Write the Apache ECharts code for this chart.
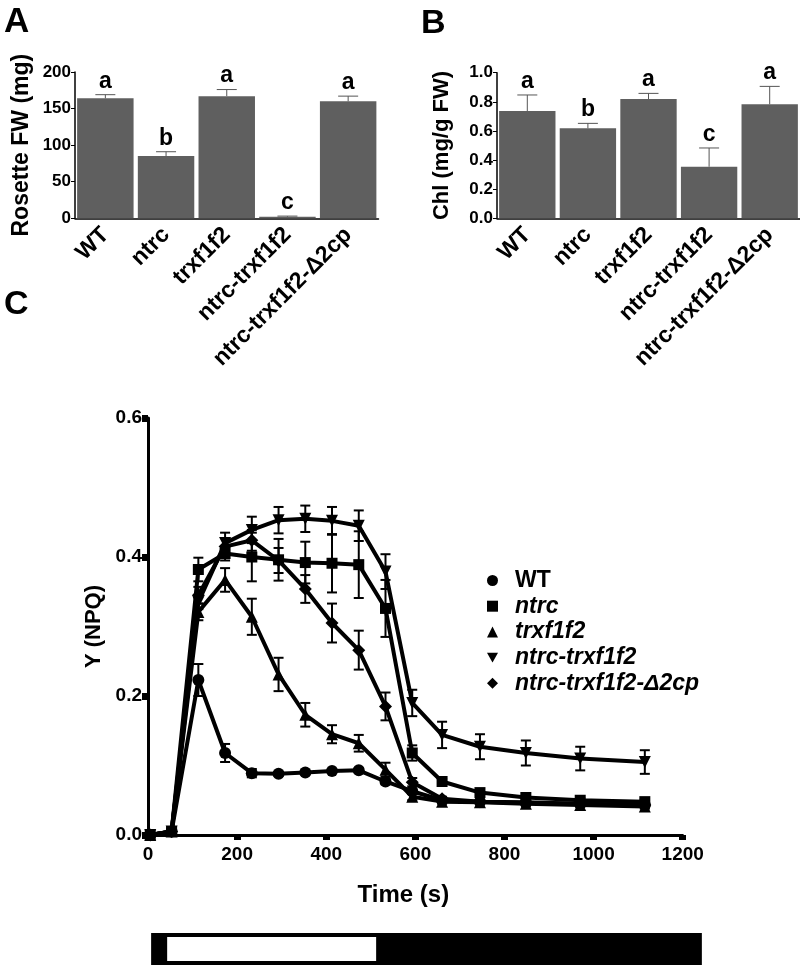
<!DOCTYPE html>
<html>
<head>
<meta charset="utf-8">
<script src="https://cdn.jsdelivr.net/npm/echarts@6/dist/echarts.min.js"></script>
<style>
html, body { margin: 0; padding: 0; background: #fff; }
#chart { width: 800px; height: 965px; }
</style>
</head>
<body>
<div id="chart"></div>
<script>
// genotypes (panels A and B)
const genotypes = ['WT', 'ntrc', 'trxf1f2', 'ntrc-trxf1f2', 'ntrc-trxf1f2-\u03942cp'];
const fwMean = [164, 85, 167, 2, 160];
const fwErr = [5, 6, 9, 1, 7];
const fwLetters = ['a', 'b', 'a', 'c', 'a'];
const chlMean = [0.737, 0.618, 0.819, 0.354, 0.783];
const chlErr = [0.11, 0.034, 0.039, 0.129, 0.123];
const chlLetters = ['a', 'b', 'a', 'c', 'a'];

// panel C: Y(NPQ) over time
const timePoints = [5, 53, 113, 173, 233, 293, 353, 413, 473, 533, 593, 660, 745, 848, 970, 1115];
const npqWT = [0, 0.005, 0.223, 0.118, 0.089, 0.088, 0.09, 0.092, 0.093, 0.077, 0.063, 0.05, 0.048, 0.046, 0.045, 0.043];
const errWT = [0.002, 0.004, 0.023, 0.013, 0.006, 0.003, 0.003, 0.003, 0.003, 0.004, 0.004, 0.003, 0.003, 0.003, 0.003, 0.003];
const npqNtrc = [0, 0.005, 0.382, 0.405, 0.4, 0.396, 0.392, 0.391, 0.389, 0.326, 0.118, 0.077, 0.061, 0.054, 0.05, 0.048];
const errNtrc = [0.002, 0.004, 0.017, 0.01, 0.035, 0.03, 0.03, 0.042, 0.048, 0.041, 0.011, 0.004, 0.004, 0.003, 0.003, 0.003];
const npqTrx = [0, 0.005, 0.321, 0.367, 0.314, 0.231, 0.173, 0.145, 0.132, 0.094, 0.055, 0.048, 0.047, 0.045, 0.043, 0.041];
const errTrx = [0.002, 0.004, 0.012, 0.017, 0.026, 0.024, 0.017, 0.013, 0.012, 0.01, 0.005, 0.003, 0.003, 0.003, 0.003, 0.003];
const npqDouble = [0, 0.005, 0.335, 0.42, 0.439, 0.453, 0.455, 0.452, 0.445, 0.379, 0.19, 0.144, 0.127, 0.118, 0.11, 0.105];
const errDouble = [0.002, 0.004, 0.01, 0.015, 0.019, 0.019, 0.019, 0.02, 0.022, 0.025, 0.019, 0.019, 0.018, 0.018, 0.017, 0.017];
const npqD2cp = [0, 0.005, 0.345, 0.415, 0.424, 0.395, 0.354, 0.305, 0.266, 0.185, 0.076, 0.052, 0.048, 0.047, 0.045, 0.043];
const errD2cp = [0.002, 0.004, 0.012, 0.012, 0.015, 0.018, 0.02, 0.028, 0.028, 0.02, 0.006, 0.003, 0.003, 0.003, 0.003, 0.003];

// light / dark bar under panel C (seconds)
const darkSpan = [7, 1243];
const lightSpan = [43, 512];

const FONT = 'Liberation Sans, Arial, sans-serif';
const downTri = 'path://M0,0L10,0L5,9Z';

const chart = echarts.init(document.getElementById('chart'));

// upward error bar + significance letter for bar panels
function barErrRender (letters) {
  return function (params, api) {
    const i = api.value(0);
    const mean = api.value(1);
    const err = api.value(2);
    const base = api.coord([i, mean]);
    const top = api.coord([i, mean + err]);
    return {
      type: 'group',
      children: [
        { type: 'line', shape: { x1: top[0], y1: base[1], x2: top[0], y2: top[1] }, style: { stroke: '#555', lineWidth: 1 } },
        { type: 'line', shape: { x1: top[0] - 10, y1: top[1], x2: top[0] + 10, y2: top[1] }, style: { stroke: '#555', lineWidth: 1 } },
        {
          type: 'text',
          x: top[0],
          y: top[1] - 2,
          style: { text: letters[params.dataIndex], align: 'center', verticalAlign: 'bottom', fontSize: 23, fontWeight: 'bold', fontFamily: FONT, fill: '#000' }
        }
      ]
    };
  };
}

// symmetric error bars for panel C
function lineErrRender (params, api) {
  const t = api.value(0);
  const v = api.value(1);
  const e = api.value(2);
  const hi = api.coord([t, v + e]);
  const lo = api.coord([t, v - e]);
  const st = { stroke: '#000', lineWidth: 2 };
  return {
    type: 'group',
    children: [
      { type: 'line', shape: { x1: hi[0], y1: hi[1], x2: lo[0], y2: lo[1] }, style: st },
      { type: 'line', shape: { x1: hi[0] - 5, y1: hi[1], x2: hi[0] + 5, y2: hi[1] }, style: st },
      { type: 'line', shape: { x1: lo[0] - 5, y1: lo[1], x2: lo[0] + 5, y2: lo[1] }, style: st }
    ]
  };
}

function lightBarRender (params, api) {
  const kind = api.value(2);
  const p0 = api.coord([api.value(0), 1]);
  const p1 = api.coord([api.value(1), 0]);
  const inset = kind === 1 ? 4 : 0;
  return {
    type: 'rect',
    shape: { x: p0[0], y: p0[1] + inset, width: p1[0] - p0[0], height: p1[1] - p0[1] - 2 * inset },
    style: { fill: kind === 1 ? '#fff' : '#000' }
  };
}

const barAxisLabel = { rotate: 45, interval: 0, fontSize: 23, fontWeight: 'bold', fontFamily: FONT, color: '#000', margin: 13 };
const thinLine = { lineStyle: { color: '#000', width: 1.5 } };
const tickLabel = { fontSize: 17, fontWeight: 'bold', fontFamily: FONT, color: '#000', margin: 4 };
const bigTick = { fontSize: 19, fontWeight: 'bold', fontFamily: FONT, color: '#000' };

const npqSeries = [
  { name: 'WT', values: npqWT, errs: errWT, symbol: 'circle', size: 12 },
  { name: 'ntrc', values: npqNtrc, errs: errNtrc, symbol: 'rect', size: 11 },
  { name: 'trxf1f2', values: npqTrx, errs: errTrx, symbol: 'triangle', size: 12 },
  { name: 'ntrc-trxf1f2', values: npqDouble, errs: errDouble, symbol: downTri, size: 12 },
  { name: 'ntrc-trxf1f2-\u03942cp', values: npqD2cp, errs: errD2cp, symbol: 'diamond', size: 13 }
];

const series = [
  {
    type: 'bar', xAxisIndex: 0, yAxisIndex: 0, barCategoryGap: '7%',
    itemStyle: { color: '#5f5f5f' }, data: fwMean
  },
  {
    type: 'custom', name: 'errA', xAxisIndex: 0, yAxisIndex: 0, z: 5,
    renderItem: barErrRender(fwLetters),
    data: fwMean.map((m, i) => [i, m, fwErr[i]])
  },
  {
    type: 'bar', xAxisIndex: 1, yAxisIndex: 1, barCategoryGap: '7%',
    itemStyle: { color: '#5f5f5f' }, data: chlMean
  },
  {
    type: 'custom', name: 'errB', xAxisIndex: 1, yAxisIndex: 1, z: 5,
    renderItem: barErrRender(chlLetters),
    data: chlMean.map((m, i) => [i, m, chlErr[i]])
  },
  {
    type: 'custom', name: 'lightbar', xAxisIndex: 3, yAxisIndex: 3, clip: false,
    renderItem: lightBarRender,
    data: [[darkSpan[0], darkSpan[1], 0], [lightSpan[0], lightSpan[1], 1]]
  }
];

npqSeries.forEach(s => {
  series.push({
    type: 'custom', name: 'err-' + s.name, xAxisIndex: 2, yAxisIndex: 2, z: 3,
    renderItem: lineErrRender,
    data: timePoints.map((t, i) => [t, s.values[i], s.errs[i]])
  });
  series.push({
    type: 'line', name: s.name, xAxisIndex: 2, yAxisIndex: 2, z: 4,
    symbol: s.symbol, symbolSize: s.size,
    lineStyle: { color: '#000', width: 4 },
    itemStyle: { color: '#000' },
    data: timePoints.map((t, i) => [t, s.values[i]])
  });
});

const option = {
  animation: false,
  backgroundColor: '#fff',
  textStyle: { fontFamily: FONT },
  graphic: [
    { type: 'text', left: 4, top: 5, style: { text: 'A', fontSize: 35, fontWeight: 'bold', fontFamily: FONT, fill: '#000' } },
    { type: 'text', left: 421, top: 7, style: { text: 'B', fontSize: 34, fontWeight: 'bold', fontFamily: FONT, fill: '#000' } },
    { type: 'text', left: 4, top: 288, style: { text: 'C', fontSize: 34, fontWeight: 'bold', fontFamily: FONT, fill: '#000' } }
  ],
  legend: {
    left: 482, top: 564, orient: 'vertical', itemWidth: 11, itemHeight: 11, itemGap: 2.7,
    selectedMode: false,
    textStyle: { fontSize: 23, fontWeight: 'bold', fontFamily: FONT, color: '#000', lineHeight: 20, padding: [0, 0, 0, 12] },
    data: [
      { name: 'WT', icon: 'circle' },
      { name: 'ntrc', icon: 'rect', textStyle: { fontStyle: 'italic' } },
      { name: 'trxf1f2', icon: 'triangle', textStyle: { fontStyle: 'italic' } },
      { name: 'ntrc-trxf1f2', icon: downTri, textStyle: { fontStyle: 'italic' } },
      { name: 'ntrc-trxf1f2-\u03942cp', icon: 'diamond', textStyle: { fontStyle: 'italic' } }
    ]
  },
  grid: [
    { left: 75, top: 72, width: 303.5, height: 146.3 },
    { left: 497, top: 72.7, width: 303.5, height: 145.6 },
    { left: 148, top: 418, width: 534.7, height: 417 },
    { left: 148, top: 933, width: 534.7, height: 40 }
  ],
  xAxis: [
    {
      type: 'category', gridIndex: 0, data: genotypes,
      axisLine: thinLine, axisTick: { alignWithLabel: true, length: 4, lineStyle: { color: '#000' } },
      axisLabel: barAxisLabel
    },
    {
      type: 'category', gridIndex: 1, data: genotypes,
      axisLine: thinLine, axisTick: { alignWithLabel: true, length: 4, lineStyle: { color: '#000' } },
      axisLabel: barAxisLabel
    },
    {
      type: 'value', gridIndex: 2, min: 0, max: 1200, interval: 200,
      name: 'Time (s)', nameLocation: 'middle', nameGap: 48,
      nameTextStyle: { fontSize: 24, fontWeight: 'bold', fontFamily: FONT, color: '#000', padding: [0, 24, 0, 0] },
      axisLine: { lineStyle: { color: '#000', width: 3 } },
      axisTick: { length: 5, lineStyle: { color: '#000', width: 7 } },
      axisLabel: Object.assign({}, bigTick, { margin: 10, formatter: v => String(v) }),
      splitLine: { show: false }
    },
    { type: 'value', gridIndex: 3, min: 0, max: 1200, show: false }
  ],
  yAxis: [
    {
      type: 'value', gridIndex: 0, min: 0, max: 200, interval: 50,
      name: 'Rosette FW (mg)', nameLocation: 'middle', nameGap: 42,
      nameTextStyle: { fontSize: 23, fontWeight: 'bold', fontFamily: FONT, color: '#000' },
      axisLine: Object.assign({ show: true }, thinLine), axisTick: { show: true, length: 4, lineStyle: { color: '#000' } },
      axisLabel: tickLabel, splitLine: { show: false }
    },
    {
      type: 'value', gridIndex: 1, min: 0, max: 1, interval: 0.2,
      name: 'Chl (mg/g FW)', nameLocation: 'middle', nameGap: 44,
      nameTextStyle: { fontSize: 22, fontWeight: 'bold', fontFamily: FONT, color: '#000' },
      axisLine: Object.assign({ show: true }, thinLine), axisTick: { show: true, length: 4, lineStyle: { color: '#000' } },
      axisLabel: Object.assign({}, tickLabel, { formatter: v => v.toFixed(1) }), splitLine: { show: false }
    },
    {
      type: 'value', gridIndex: 2, min: 0, max: 0.6, interval: 0.2,
      name: 'Y (NPQ)', nameLocation: 'middle', nameGap: 38,
      nameTextStyle: { fontSize: 22, fontWeight: 'bold', fontFamily: FONT, color: '#000' },
      axisLine: { show: true, lineStyle: { color: '#000', width: 3 } },
      axisTick: { show: true, length: 6, lineStyle: { color: '#000', width: 7 } },
      axisLabel: Object.assign({}, bigTick, { margin: 6, formatter: v => v.toFixed(1) }),
      splitLine: { show: false }
    },
    { type: 'value', gridIndex: 3, min: 0, max: 1, show: false }
  ],
  series: series
};

chart.setOption(option);
</script>
</body>
</html>
